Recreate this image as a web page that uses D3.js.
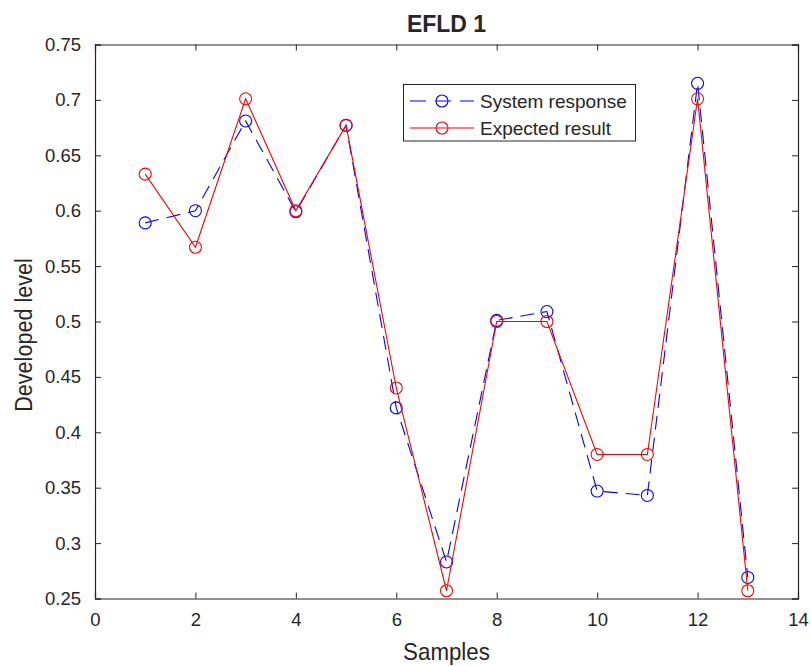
<!DOCTYPE html>
<html><head><meta charset="utf-8">
<script src="https://cdn.jsdelivr.net/npm/d3@7"></script>
<style>body{margin:0;background:#fff}svg{display:block}text{font-family:"Liberation Sans",Arial,sans-serif;fill:#262626}</style>
</head><body>
<svg id="c" width="811" height="666"></svg>
<script>
const samples = [1,2,3,4,5,6,7,8,9,10,11,12,13];
const systemResponse = [0.589,0.600,0.681,0.599,0.677,0.422,0.283,0.501,0.509,0.347,0.343,0.715,0.269];
const expectedResult = [0.633,0.567,0.701,0.600,0.677,0.440,0.257,0.500,0.500,0.380,0.380,0.701,0.257];
const xTicks = [0,2,4,6,8,10,12,14];
const yTicks = [0.25,0.3,0.35,0.4,0.45,0.5,0.55,0.6,0.65,0.7,0.75];
const yTickLabels = ["0.25","0.3","0.35","0.4","0.45","0.5","0.55","0.6","0.65","0.7","0.75"];
const seriesNames = ["System response","Expected result"];
const colors = ["#0000ff","#ff0000"];

const L=95,R=798,T=44.5,B=598.5;
const svg=d3.select("#c");
const x=d3.scaleLinear().domain([0,14]).range([L,R]);
const y=d3.scaleLinear().domain([0.25,0.75]).range([B,T]);
const axc="#262626", tk=6;

svg.append("rect").attr("x",L).attr("y",T).attr("width",R-L).attr("height",B-T).attr("fill","#fff");

// axes
const xb=svg.append("g").attr("transform",`translate(0,${B})`).call(d3.axisBottom(x).tickValues(xTicks).tickSize(-tk).tickPadding(14).tickFormat(d3.format("d")));
const xt=svg.append("g").attr("transform",`translate(0,${T})`).call(d3.axisTop(x).tickValues(xTicks).tickSize(-tk).tickFormat(""));
const yl=svg.append("g").attr("transform",`translate(${L},0)`).call(d3.axisLeft(y).tickValues(yTicks).tickSize(-tk).tickPadding(14).tickFormat((d,i)=>yTickLabels[i]));
const yr=svg.append("g").attr("transform",`translate(${R},0)`).call(d3.axisRight(y).tickValues(yTicks).tickSize(-tk).tickFormat(""));
[xb,xt,yl,yr].forEach(g=>{
  g.selectAll("path.domain").attr("stroke",axc).attr("stroke-width",1.2);
  g.selectAll(".tick line").attr("stroke",axc).attr("stroke-width",1);
  g.selectAll(".tick text").attr("fill",axc).style("font-size","18.5px").style("font-family","Liberation Sans, Arial, sans-serif");
});
xb.selectAll(".tick text").attr("dy","0.71em");

// series
const data=[systemResponse,expectedResult];
const dashes=["14,8",null];
data.forEach((vals,k)=>{
  const pts=samples.map((s,i)=>[s,vals[i]]);
  const line=d3.line().x(d=>x(d[0])).y(d=>y(d[1]));
  svg.append("path").datum(pts).attr("d",line).attr("fill","none").attr("stroke",colors[k]).attr("stroke-width",1.1).attr("stroke-dasharray",dashes[k]);
  svg.append("g").selectAll("circle").data(pts).join("circle").attr("cx",d=>x(d[0])).attr("cy",d=>y(d[1])).attr("r",6).attr("fill","none").attr("stroke",colors[k]).attr("stroke-width",1.1);
});

// title and labels
svg.append("text").attr("x",(L+R)/2).attr("y",32).attr("text-anchor","middle").style("font-weight","bold").style("font-size","23px").attr("fill","#000").text("EFLD 1");
svg.append("text").attr("transform",`translate(${(L+R)/2},660) scale(0.93,1)`).attr("text-anchor","middle").style("font-size","24px").text("Samples");
svg.append("text").attr("transform",`translate(32,335) rotate(-90) scale(0.9,1)`).attr("text-anchor","middle").style("font-size","24px").text("Developed level");

// legend
const lg=svg.append("g");
lg.append("rect").attr("x",403.5).attr("y",84.5).attr("width",232).attr("height",56.5).attr("fill","#fff").attr("stroke",axc).attr("stroke-width",1);
const ly=[101,128];
seriesNames.forEach((n,k)=>{
  lg.append("line").attr("x1",410).attr("x2",474).attr("y1",ly[k]).attr("y2",ly[k]).attr("stroke",colors[k]).attr("stroke-width",1.1).attr("stroke-dasharray",k===0?"16,9":null);
  lg.append("circle").attr("cx",442).attr("cy",ly[k]).attr("r",6).attr("fill","none").attr("stroke",colors[k]).attr("stroke-width",1.1);
  lg.append("text").attr("x",480).attr("y",ly[k]).attr("dy","0.35em").style("font-size","19px").text(n);
});
</script>
</body></html>
